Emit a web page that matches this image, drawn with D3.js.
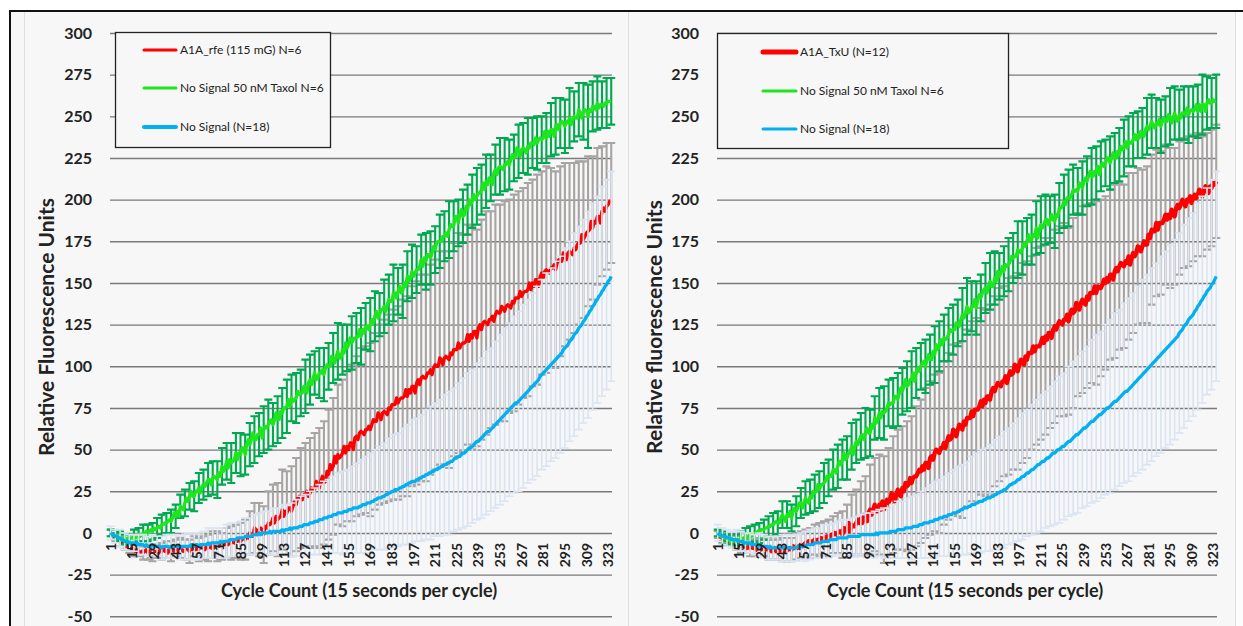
<!DOCTYPE html>
<html>
<head>
<meta charset="utf-8">
<script src="https://cdn.jsdelivr.net/npm/d3@7"></script>
<style>
  html, body { margin: 0; padding: 0; background: #ffffff; }
  svg { display: block; }
</style>
</head>
<body>
<svg id="chart" width="1243" height="626"></svg>
<script>
// ---------------- data ----------------
const nCycles = 325;
const cycles = d3.range(1, nCycles + 1);
const tickLabels = [1, 15, 29, 43, 57, 71, 85, 99, 113, 127, 141, 155, 169, 183, 197, 211, 225, 239, 253, 267, 281, 295, 309, 323];
const yTicks = [-50, -25, 0, 25, 50, 75, 100, 125, 150, 175, 200, 225, 250, 275, 300];

const leftLabels = ["A1A_rfe (115 mG) N=6", "No Signal 50 nM Taxol N=6", "No Signal (N=18)"];
const rightLabels = ["A1A_TxU (N=12)", "No Signal 50 nM Taxol N=6", "No Signal (N=18)"];

// mean RFU per cycle, left panel
const leftRed = [
  0,-1,-2,-3,-3,-4,-5,-5,-7,-7,
  -8,-8,-9,-10,-9,-10,-11,-10,-11,-12,
  -11,-12,-11,-10,-12,-11,-10,-12,-11,-11,
  -11,-12,-10,-11,-9,-11,-10,-12,-10,-11,
  -10,-11,-9,-10,-11,-9,-10,-11,-10,-9,
  -10,-11,-9,-10,-8,-10,-9,-10,-8,-9,
  -9,-10,-8,-9,-8,-9,-7,-9,-8,-8,
  -8,-7,-8,-7,-7,-6,-7,-6,-6,-5,
  -6,-5,-5,-4,-5,-4,-3,-4,-2,-3,
  0,-2,-2,3,2,-1,2,3,2,-1,
  4,3,6,5,6,9,6,10,8,9,
  10,14,10,13,12,15,15,13,16,19,
  17,21,22,21,20,23,23,25,22,24,
  27,26,26,31,29,27,31,34,30,31,
  37,35,41,38,40,46,42,47,45,46,
  48,52,48,52,50,54,54,50,57,58,
  56,60,61,60,59,62,62,64,62,65,
  68,67,67,72,71,68,72,73,72,71,
  75,74,77,77,77,81,78,80,81,81,
  82,86,82,86,84,88,88,84,90,92,
  89,93,94,93,93,96,96,98,95,99,
  101,100,100,105,104,101,105,106,105,104,
  108,107,110,110,110,114,111,113,114,114,
  115,119,115,119,117,121,121,117,123,125,
  122,126,127,126,125,128,128,130,127,131,
  133,132,132,136,135,133,136,137,136,135,
  139,138,141,141,141,145,142,144,145,145,
  146,150,146,150,148,152,152,148,154,156,
  153,157,158,157,156,159,159,161,158,162,
  164,163,163,168,167,164,168,169,168,167,
  171,170,173,174,174,179,176,178,180,181,
  182,187,183,187,186,190,190,186,193,195,
  193,196,197,199,198
];
const leftGreen = [
  0,-1,-1,-2,-2,-3,-2,-4,-3,-4,
  -4,-3,-4,-3,-3,-2,-3,-2,-1,-2,
  -1,0,-1,1,0,1,2,1,3,2,
  3,4,3,5,5,6,6,7,8,7,
  9,12,10,13,10,16,15,14,18,21,
  19,22,25,22,22,25,25,27,24,28,
  29,28,30,32,32,29,33,34,33,32,
  36,34,40,37,39,43,39,44,42,43,
  44,48,44,48,47,51,51,47,53,56,
  53,56,60,56,56,59,59,63,57,62,
  64,63,65,67,68,65,68,72,68,68,
  73,72,75,75,76,80,76,81,79,80,
  81,85,83,84,84,88,88,84,90,92,
  89,93,96,92,93,96,96,98,95,99,
  101,100,100,106,105,102,106,109,105,105,
  110,108,114,111,113,117,114,116,117,117,
  118,122,118,122,120,124,124,122,125,128,
  126,130,133,129,131,134,134,136,133,137,
  140,139,139,144,144,141,145,148,144,145,
  150,148,154,151,153,157,154,156,158,158,
  160,164,160,165,163,167,167,165,168,172,
  170,174,175,175,175,178,178,180,178,182,
  185,184,184,190,190,186,191,194,190,191,
  196,194,200,197,199,203,200,202,204,204,
  206,210,206,211,209,213,213,209,216,218,
  215,219,220,219,218,221,221,223,221,224,
  227,225,226,231,229,226,230,231,230,228,
  232,231,234,234,233,237,234,236,237,236,
  237,241,237,241,238,242,242,238,244,245,
  242,246,247,246,244,247,246,249,245,248,
  250,249,249,254,252,249,253,254,253,250,
  254,253,256,256,254,258,255,257,257,256,
  258,258,259,259,259
];
const leftBlue = [
  0,-1,-1,-2,-2,-3,-3,-4,-4,-5,
  -5,-5,-6,-6,-6,-6,-7,-6,-7,-7,
  -7,-7,-8,-7,-8,-8,-8,-7,-8,-8,
  -8,-8,-8,-9,-8,-8,-8,-8,-9,-8,
  -8,-8,-8,-8,-8,-9,-8,-8,-8,-8,
  -8,-8,-7,-8,-8,-7,-7,-8,-7,-7,
  -7,-7,-7,-6,-7,-6,-6,-6,-6,-6,
  -6,-5,-6,-5,-5,-5,-5,-4,-4,-4,
  -4,-4,-3,-3,-3,-3,-3,-2,-2,-2,
  -2,-2,-1,-1,-1,-1,0,-1,0,0,
  0,0,0,1,0,1,1,1,1,1,
  1,2,1,2,2,2,3,2,3,3,
  3,3,4,4,4,5,5,5,5,6,
  6,6,7,7,7,8,8,8,9,9,
  9,10,10,10,11,11,11,12,12,12,
  12,13,13,13,14,14,14,15,15,15,
  15,16,16,17,17,17,18,18,18,19,
  19,20,20,21,21,21,22,22,23,23,
  24,24,25,25,26,26,26,27,27,28,
  28,29,29,30,30,31,31,31,32,32,
  33,33,34,34,35,35,36,36,37,37,
  38,38,39,39,40,40,41,41,42,42,
  43,43,44,45,45,46,46,47,48,48,
  49,50,51,51,52,53,54,55,55,56,
  57,58,59,60,61,61,62,63,64,65,
  66,67,68,69,70,71,72,73,74,75,
  76,77,78,78,79,80,81,82,83,84,
  85,86,87,88,89,90,91,92,94,95,
  96,97,98,99,100,101,102,103,104,105,
  106,107,108,110,111,112,113,115,116,117,
  119,120,121,123,124,125,127,128,130,131,
  133,134,136,137,139,140,142,143,145,146,
  148,149,151,152,154
];

// mean RFU per cycle, right panel
const rightRed = [
  -1,-2,-2,-3,-3,-4,-4,-5,-4,-5,
  -5,-6,-6,-7,-7,-8,-7,-8,-8,-9,
  -8,-9,-8,-9,-9,-10,-9,-8,-10,-9,
  -9,-10,-9,-10,-10,-11,-10,-9,-11,-10,
  -10,-11,-10,-9,-11,-10,-10,-9,-10,-8,
  -9,-8,-9,-8,-7,-8,-7,-6,-6,-5,
  -6,-5,-5,-4,-5,-4,-4,-3,-4,-3,
  -3,-2,-3,-2,-1,-1,0,-1,0,1,
  1,-1,3,2,1,6,1,5,4,4,
  6,8,6,9,6,11,10,7,12,14,
  11,14,17,13,13,17,14,19,14,18,
  20,18,20,24,23,19,23,26,23,22,
  27,25,30,28,29,33,30,33,34,34,
  36,38,37,40,38,42,42,39,45,46,
  44,48,50,49,48,51,51,54,51,55,
  58,56,57,62,61,58,62,65,63,62,
  67,65,69,69,69,73,70,74,74,74,
  76,79,76,80,78,82,82,80,85,87,
  85,88,90,89,88,91,91,94,90,94,
  97,95,96,101,100,97,101,104,102,101,
  106,104,108,108,108,112,109,112,112,112,
  114,117,114,118,116,120,120,117,122,124,
  122,125,127,126,125,128,128,131,127,131,
  134,132,133,138,137,134,138,140,138,137,
  142,140,144,144,144,148,144,148,147,147,
  149,152,150,153,151,155,155,152,157,159,
  157,160,162,161,160,163,162,166,161,165,
  168,166,168,172,171,169,172,175,173,173,
  179,177,182,181,181,186,182,186,186,186,
  188,191,188,191,189,194,193,190,195,197,
  195,197,200,198,196,200,199,202,198,201,
  203,201,203,206,205,202,205,208,205,204,
  208,207,210,209,211
];
const rightGreen = [
  0,-1,-2,-2,-3,-3,-4,-4,-5,-4,
  -5,-4,-5,-4,-4,-3,-4,-3,-2,-3,
  -2,-1,-2,-1,0,0,1,0,2,2,
  2,3,3,4,4,5,5,6,7,6,
  6,9,11,9,7,11,10,13,9,13,
  15,13,15,18,18,15,18,21,19,18,
  22,21,25,24,25,29,26,29,29,30,
  31,34,33,35,34,38,38,36,40,43,
  41,44,48,44,45,48,48,52,47,52,
  55,53,56,58,59,56,60,63,60,60,
  65,63,69,66,68,72,69,73,72,73,
  75,78,77,78,78,82,82,80,84,87,
  85,88,92,88,89,92,92,96,91,96,
  99,97,100,102,103,100,104,107,104,104,
  109,107,113,110,112,116,113,117,116,117,
  119,122,121,122,122,126,126,124,128,131,
  129,132,136,132,133,136,136,140,135,140,
  143,141,144,146,147,144,148,151,148,148,
  153,151,157,154,156,160,157,161,160,161,
  163,166,165,166,166,170,169,168,171,174,
  172,175,179,175,176,179,178,183,177,182,
  185,183,185,188,188,185,188,191,188,187,
  191,190,195,195,196,199,197,201,201,201,
  203,206,205,206,205,210,209,207,211,213,
  211,214,217,214,214,217,216,220,215,220,
  222,220,222,225,225,222,225,228,225,225,
  229,227,232,230,231,235,231,235,234,234,
  236,239,236,239,237,241,240,238,242,244,
  242,244,247,244,243,246,245,248,244,247,
  249,247,247,251,250,246,249,252,248,247,
  251,249,252,252,251,255,251,253,254,253,
  254,257,253,257,253,257,257,253,258,260,
  258,258,260,259,259
];
const rightBlue = [
  0,-1,-1,-2,-2,-2,-3,-3,-3,-4,
  -4,-4,-4,-5,-5,-5,-5,-6,-6,-6,
  -6,-6,-7,-7,-7,-7,-8,-7,-8,-8,
  -8,-8,-8,-9,-8,-9,-9,-9,-9,-9,
  -9,-9,-9,-9,-9,-9,-9,-9,-9,-9,
  -9,-9,-8,-8,-8,-8,-8,-8,-7,-7,
  -7,-7,-7,-6,-6,-6,-6,-6,-5,-5,
  -5,-5,-5,-4,-4,-4,-4,-4,-3,-3,
  -3,-3,-3,-3,-3,-2,-2,-2,-2,-2,
  -2,-2,-2,-1,-1,-1,-1,-1,-1,-1,
  -1,-1,-1,0,-1,0,0,0,0,0,
  0,0,1,1,1,1,1,2,2,2,
  2,2,3,3,3,3,3,4,4,4,
  4,5,5,5,6,6,6,6,7,7,
  7,8,8,8,9,9,9,10,10,10,
  11,11,11,12,12,12,13,13,14,14,
  15,15,15,16,16,17,17,17,18,18,
  19,19,19,20,20,21,21,21,22,22,
  23,23,24,24,25,25,26,26,27,28,
  29,29,30,30,31,32,32,33,34,34,
  35,36,36,37,38,38,39,40,41,41,
  42,43,43,44,45,45,46,47,48,48,
  49,50,50,51,52,52,53,54,55,55,
  56,57,58,59,59,60,61,62,63,63,
  64,65,66,67,67,68,69,70,71,71,
  72,73,74,75,75,76,77,78,79,79,
  80,81,82,83,84,85,85,86,87,88,
  89,90,91,92,93,94,95,96,97,98,
  99,100,101,102,103,104,105,106,107,108,
  109,110,111,112,113,114,115,116,117,118,
  120,121,122,124,125,126,128,129,130,131,
  133,134,136,137,139,140,142,143,145,146,
  147,149,150,152,154
];

// standard deviations, one per error bar (cycles 1, 4, 7, ... 325)
const errorStep = 3;
const leftRedErr = [
  2,2,3,3,3,4,3,4,4,5, 4,5,5,6,5,6,6,7,6,7,
  7,8,8,9,8,9,10,10,11,12, 13,15,16,17,19,20,22,24,25,27,
  28,30,31,33,34,36,37,39,41,42, 44,45,47,48,50,50,52,53,54,55,
  56,57,58,59,60,60,61,62,62,63, 63,64,64,65,64,66,65,66,67,65,
  66,67,65,66,65,66,64,65,64,63, 64,62,63,61,62,60,59,57,55,53,
  51,49,47,45,43,41,39,38,36
];
const leftGreenErr = [
  2,2,3,3,3,4,4,5,5,5, 6,6,6,7,7,7,8,8,9,9,
  9,10,10,11,11,11,12,12,13,12, 13,14,13,14,15,13,14,15,16,14,
  15,14,16,15,13,15,16,14,15,17, 15,14,16,15,17,14,16,15,13,16,
  15,17,14,16,15,16,14,15,17,16, 14,16,15,17,15,14,16,15,16,17,
  15,16,14,15,17,16,15,14,16,15, 17,15,16,14,15,16,17,15,16,18,
  15,16,17,19,15,16,14,15,14
];
const leftBlueErr = [
  4,4,5,5,5,5,6,6,6,6, 6,7,7,7,7,7,8,8,8,8,
  8,9,9,9,9,10,10,10,10,11, 11,12,12,13,13,14,14,15,15,16,
  17,18,18,19,20,21,22,22,23,24, 25,25,26,27,28,29,30,30,31,32,
  33,34,34,35,36,37,37,38,39,40, 40,41,42,43,43,44,45,46,46,47,
  48,49,49,50,51,52,52,53,54,55, 55,56,57,57,58,58,59,59,60,60,
  61,61,61,62,62,62,63,63,63
];
const rightRedErr = [
  2,3,3,3,4,4,4,5,5,5, 5,6,6,6,7,7,7,8,8,8,
  9,9,10,10,11,11,12,14,16,18, 20,22,24,27,28,30,32,33,35,36,
  37,39,40,42,43,45,46,47,48,49, 50,51,52,53,53,54,55,56,56,57,
  57,58,57,59,58,59,60,59,58,59, 58,59,57,58,57,58,56,57,55,56,
  55,54,55,53,52,51,52,50,49,50, 48,47,46,47,45,44,43,42,42,41,
  40,39,39,38,37,36,35,35,34
];
const rightGreenErr = [
  2,3,3,3,4,4,5,5,5,6, 6,6,7,7,8,8,8,9,9,10,
  10,11,11,12,11,12,13,12,13,14, 13,14,15,14,13,15,16,14,15,16,
  14,15,17,15,14,16,15,17,15,14, 16,15,14,16,17,15,16,14,15,17,
  16,14,15,16,15,17,16,14,15,16, 17,15,14,16,15,16,17,15,14,16,
  15,17,16,15,14,16,15,16,17,15, 16,14,15,17,16,15,16,15,17,16,
  15,16,17,15,16,18,16,15,16
];
const rightBlueErr = [
  5,5,5,5,6,6,6,6,6,7, 7,7,7,7,8,8,8,8,8,9,
  9,9,9,10,10,10,10,11,11,11, 12,12,13,13,14,14,15,15,16,17,
  17,18,19,19,20,21,22,23,23,24, 25,26,27,27,28,29,30,31,31,32,
  33,34,35,35,36,37,38,38,39,40, 41,41,42,43,44,44,45,46,47,47,
  48,49,50,50,51,52,53,53,54,55, 55,56,57,57,58,58,59,59,60,60,
  60,61,61,61,62,62,62,63,63
];

// ---------------- drawing ----------------
const FONT = "Lato, 'Open Sans', 'DejaVu Sans', sans-serif";
const svg = d3.select("#chart");

// sheet background and frame
svg.append("rect").attr("x", 10).attr("y", 11).attr("width", 1233).attr("height", 615).attr("fill", "#f7f7f7");
svg.append("rect").attr("x", 1236).attr("y", 12).attr("width", 7).attr("height", 614).attr("fill", "#fcfcfc");
[24, 628, 1235].forEach(px => {
  svg.append("line").attr("x1", px + 0.5).attr("x2", px + 0.5).attr("y1", 12).attr("y2", 626)
    .attr("stroke", "#e0e0e0").attr("stroke-width", 1);
});
svg.append("line").attr("x1", 9).attr("x2", 1243).attr("y1", 11).attr("y2", 11).attr("stroke", "#111").attr("stroke-width", 2);
svg.append("line").attr("x1", 10).attr("x2", 10).attr("y1", 10).attr("y2", 626).attr("stroke", "#111").attr("stroke-width", 2);

const COLORS = {
  red: "#ff0000", green: "#1ee61e", blue: "#00b0f0",
  redErr: "#a8a4a4", greenErr: "#00a84f", blueErr: "#dae4f2"
};

function drawPanel(cfg) {
  const g = svg.append("g");
  const x = d3.scaleBand().domain(cycles).range([cfg.x0, cfg.x1]).padding(0);
  const cx = c => x(c) + x.bandwidth() / 2;
  const y = d3.scaleLinear().domain([-50, 300]).range([616.3, 33]);

  // horizontal gridlines with value labels
  const yAxis = d3.axisLeft(y).tickValues(yTicks).tickSize(-(cfg.x1 - cfg.x0)).tickPadding(18).tickFormat(d => String(d));
  const gy = g.append("g").attr("transform", `translate(${cfg.x0},0)`).call(yAxis);
  gy.select(".domain").remove();
  gy.selectAll(".tick line").attr("stroke", "#7a7a7a").attr("stroke-width", 1.4);
  gy.selectAll(".tick text").attr("font-family", FONT).attr("font-size", 16).attr("font-weight", "bold").attr("fill", "#222");

  const line = d3.line().x((v, i) => cx(cycles[i])).y(v => y(v));

  function errorBars(vals, errs, color, width) {
    const pts = errs.map((e, k) => ({ c: cycles[k * errorStep], v: vals[k * errorStep], e }));
    g.append("g").attr("stroke", color).attr("stroke-width", width).attr("fill", "none")
      .selectAll("path").data(pts).join("path")
      .attr("d", d => {
        const xx = cx(d.c), y1 = y(d.v + d.e), y2 = y(d.v - d.e), w = 4;
        return `M${xx},${y1}V${y2}M${xx - w},${y1}H${xx + w}M${xx - w},${y2}H${xx + w}`;
      });
  }
  function seriesLine(vals, color, width) {
    g.append("path").datum(vals).attr("d", line).attr("fill", "none")
      .attr("stroke", color).attr("stroke-width", width).attr("stroke-linejoin", "round");
  }

  errorBars(cfg.red, cfg.redErr, COLORS.redErr, 2.1);
  seriesLine(cfg.red, COLORS.red, cfg.redWidth);
  errorBars(cfg.green, cfg.greenErr, COLORS.greenErr, 2.1);
  seriesLine(cfg.green, COLORS.green, 3.3);
  errorBars(cfg.blue, cfg.blueErr, COLORS.blueErr, 1.6);
  seriesLine(cfg.blue, COLORS.blue, 3.3);

  // category axis (labels only) crossing at zero
  const xAxis = d3.axisBottom(x).tickValues(tickLabels).tickSize(0).tickPadding(0);
  const gx = g.append("g").attr("transform", `translate(0,${y(0)})`).call(xAxis);
  gx.select(".domain").remove();
  gx.selectAll(".tick text")
    .attr("transform", "rotate(-90)").attr("x", -10).attr("y", 0).attr("dy", "0.36em")
    .attr("text-anchor", "end").attr("font-family", FONT).attr("font-size", 14)
    .attr("font-weight", "bold").attr("fill", "#222");

  // axis titles
  g.append("text").attr("x", (cfg.x0 + cfg.x1) / 2 - 2).attr("y", 597)
    .attr("text-anchor", "middle").attr("font-family", FONT).attr("font-size", 18)
    .attr("font-weight", "bold").attr("fill", "#222").text("Cycle Count (15 seconds per cycle)");
  g.append("text").attr("transform", `translate(${cfg.yTitleX},327) rotate(-90)`)
    .attr("text-anchor", "middle").attr("font-family", FONT).attr("font-size", 21)
    .attr("font-weight", "bold").attr("fill", "#222").text(cfg.yTitle);

  // legend
  const L = cfg.legend;
  const lg = g.append("g");
  lg.append("rect").attr("x", L.x).attr("y", L.y).attr("width", L.w).attr("height", L.h)
    .attr("fill", "#f7f7f7").attr("stroke", "#222").attr("stroke-width", 1.3);
  const items = [
    { label: cfg.labels[0], color: COLORS.red, width: L.widths[0] },
    { label: cfg.labels[1], color: COLORS.green, width: L.widths[1] },
    { label: cfg.labels[2], color: COLORS.blue, width: L.widths[2] }
  ];
  items.forEach((it, i) => {
    lg.append("line").attr("x1", L.lx0).attr("x2", L.lx1).attr("y1", L.rows[i]).attr("y2", L.rows[i])
      .attr("stroke", it.color).attr("stroke-width", it.width).attr("stroke-linecap", "round");
    lg.append("text").attr("x", L.tx).attr("y", L.rows[i]).attr("dy", "0.35em")
      .attr("font-family", FONT).attr("font-size", 12).attr("fill", "#222").text(it.label);
  });
}

drawPanel({
  x0: 110, x1: 612, yTitleX: 54, yTitle: "Relative Fluorescence Units",
  red: leftRed, green: leftGreen, blue: leftBlue,
  redErr: leftRedErr, greenErr: leftGreenErr, blueErr: leftBlueErr,
  redWidth: 3.3, labels: leftLabels,
  legend: { x: 115.5, y: 32.5, w: 215, h: 115, lx0: 144, lx1: 176, tx: 180, rows: [50, 88, 127], widths: [3, 3, 4] }
});
drawPanel({
  x0: 717, x1: 1217, yTitleX: 662, yTitle: "Relative fluorescence Units",
  red: rightRed, green: rightGreen, blue: rightBlue,
  redErr: rightRedErr, greenErr: rightGreenErr, blueErr: rightBlueErr,
  redWidth: 4.3, labels: rightLabels,
  legend: { x: 717.5, y: 33.5, w: 291, h: 115, lx0: 763, lx1: 796, tx: 800, rows: [52, 91, 129], widths: [5, 3, 3] }
});
</script>
</body>
</html>
